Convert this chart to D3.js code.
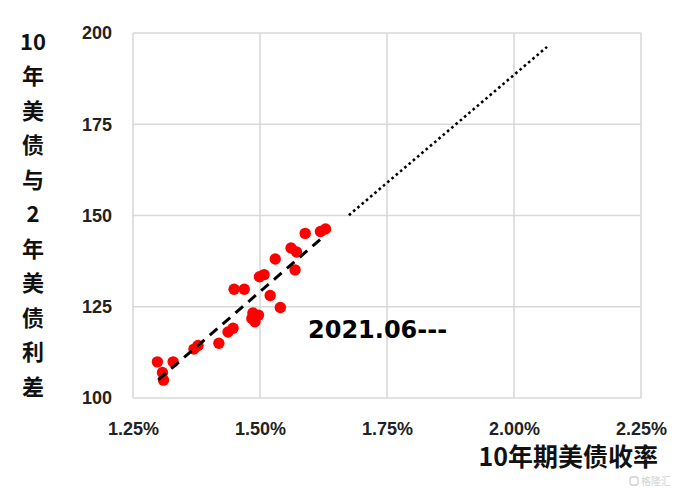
<!DOCTYPE html>
<html>
<head>
<meta charset="utf-8">
<script src="https://cdn.jsdelivr.net/npm/d3@7"></script>
<style>
  html, body { margin: 0; padding: 0; background: #ffffff; }
  svg { display: block; }
</style>
</head>
<body>
<svg id="chart" width="680" height="488"></svg>
<script>
// ---- data (10Y yield in %, 10Y-2Y spread in bp) ----
const yieldValues = [1.298, 1.308, 1.310, 1.329, 1.370, 1.378, 1.419, 1.437, 1.447, 1.449,
                     1.469, 1.484, 1.490, 1.497, 1.486, 1.499, 1.508, 1.520, 1.540, 1.530,
                     1.561, 1.572, 1.569, 1.589, 1.619, 1.629];
const spreadValues = [109.9, 107.0, 104.9, 109.9, 113.4, 114.4, 115.0, 118.1, 119.1, 129.8,
                      129.8, 121.8, 120.9, 122.7, 123.3, 133.2, 133.8, 128.1, 124.8, 138.1,
                      141.1, 140.0, 135.1, 145.1, 145.6, 146.3];
const fitDashed = [[1.300, 105.0], [1.624, 144.1]];
const fitDotted = [[1.675, 150.1], [2.065, 196.2]];
const xTicks = [1.25, 1.50, 1.75, 2.00, 2.25];
const yTicks = [100, 125, 150, 175, 200];
const yTitleParts = ["10", "年", "美", "债", "与", "2", "年", "美", "债", "利", "差"];
const xTitle = "10年期美债收率";
const annotation = "2021.06---";
const watermark = "格隆汇";

// ---- layout ----
const svg = d3.select("#chart");
const plot = { left: 133, right: 641, top: 33, bottom: 398 };
const x = d3.scaleLinear().domain([1.25, 2.25]).range([plot.left, plot.right]);
const y = d3.scaleLinear().domain([100, 200]).range([plot.bottom, plot.top]);
const tickFont = "'Liberation Sans', Arial, sans-serif";
const cjkFont = "'Noto Sans CJK SC', 'Noto Sans', sans-serif";

// gridlines
const grid = svg.append("g");
grid.selectAll("line.h").data(yTicks).join("line")
  .attr("x1", plot.left).attr("x2", plot.right)
  .attr("y1", d => y(d)).attr("y2", d => y(d))
  .attr("stroke", "#d9d9d9").attr("stroke-width", 1.6);
grid.selectAll("line.v").data(xTicks).join("line")
  .attr("y1", plot.top).attr("y2", plot.bottom)
  .attr("x1", d => x(d)).attr("x2", d => x(d))
  .attr("stroke", "#d9d9d9").attr("stroke-width", 1.6);

// axes (labels only)
const yAxis = svg.append("g").attr("transform", `translate(${plot.left},0)`)
  .call(d3.axisLeft(y).tickValues(yTicks).tickSize(0).tickPadding(21));
const xAxis = svg.append("g").attr("transform", `translate(0,${plot.bottom})`)
  .call(d3.axisBottom(x).tickValues(xTicks).tickSize(0).tickPadding(24)
        .tickFormat(d => d3.format(".2f")(d) + "%"));
[yAxis, xAxis].forEach(a => {
  a.select(".domain").remove();
  a.selectAll("text").attr("font-family", tickFont).attr("font-weight", "bold")
    .attr("font-size", 18).attr("fill", "#222");
});

// scatter points
svg.append("g").selectAll("circle")
  .data(yieldValues.map((v, i) => [v, spreadValues[i]]))
  .join("circle")
  .attr("cx", d => x(d[0])).attr("cy", d => y(d[1])).attr("r", 5.7)
  .attr("fill", "#ff0000");

// trend lines
const line = d3.line().x(d => x(d[0])).y(d => y(d[1]));
svg.append("path").datum(fitDashed).attr("d", line)
  .attr("fill", "none").attr("stroke", "#000").attr("stroke-width", 3)
  .attr("stroke-dasharray", "10 7");
svg.append("path").datum(fitDotted).attr("d", line)
  .attr("fill", "none").attr("stroke", "#000").attr("stroke-width", 2.6)
  .attr("stroke-dasharray", "2.6 3");

// annotation
svg.append("text").attr("x", 308).attr("y", 338)
  .attr("font-family", "'DejaVu Sans', sans-serif").attr("font-weight", "bold")
  .attr("font-size", 24).attr("fill", "#000").text(annotation);

// y title (stacked vertical)
svg.append("g").selectAll("text").data(yTitleParts).join("text")
  .attr("x", 33).attr("y", (d, i) => 42 + i * 34.5)
  .attr("dy", "0.36em").attr("text-anchor", "middle")
  .attr("font-family", cjkFont).attr("font-weight", "bold")
  .attr("font-size", 22).attr("fill", "#111").text(d => d);

// x title
svg.append("text").attr("x", 658).attr("y", 466).attr("text-anchor", "end")
  .attr("font-family", cjkFont).attr("font-weight", "bold")
  .attr("font-size", 25).attr("fill", "#111").text(xTitle);

// watermark
const wm = svg.append("g").attr("opacity", 0.85);
wm.append("rect").attr("x", 630).attr("y", 477).attr("width", 8).attr("height", 8)
  .attr("rx", 2.2).attr("fill", "none").attr("stroke", "#c8c8c8").attr("stroke-width", 1.3);
wm.append("text").attr("x", 641).attr("y", 484.5)
  .attr("font-family", cjkFont).attr("font-size", 10)
  .attr("fill", "#cccccc")
  .text(watermark);
</script>
</body>
</html>
